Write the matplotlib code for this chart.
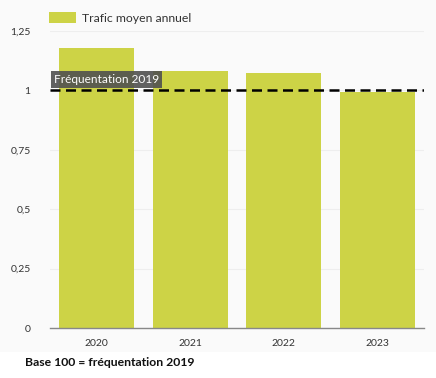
import matplotlib.pyplot as plt
from matplotlib.patches import Patch

# ---- data ----
years = ["2020", "2021", "2022", "2023"]
trafic = [1.178, 1.082, 1.073, 0.995]
ref_level = 1.0
y_ticks = [0, 0.25, 0.5, 0.75, 1, 1.25]
y_labels = ["0", "0,25", "0,5", "0,75", "1", "1,25"]

bar_color = "#cdd346"
plt.rcParams["font.family"] = ["Lato", "DejaVu Sans"]

fig = plt.figure(figsize=(4.36, 3.78), dpi=100)
fig.patch.set_facecolor("white")
# light panel behind chart
fig.patches.append(plt.Rectangle((0, 26 / 378), 1, 1 - 26 / 378, transform=fig.transFigure,
                                 facecolor="#fafafa", edgecolor="none", zorder=-10))

ax = fig.add_axes([50 / 436, (378 - 328) / 378, 374 / 436, 297 / 378])
ax.set_facecolor("none")

x = range(len(years))
ax.bar(x, trafic, width=0.8, color=bar_color, zorder=2)
ax.axhline(ref_level, color="black", linestyle=(0, (4, 2.2)), linewidth=1.8, zorder=3)
ax.text(-0.46, ref_level + 0.046, "Fréquentation 2019", color="white", fontsize=8.6,
        va="center", ha="left", zorder=4,
        bbox=dict(facecolor="#505050", alpha=0.9, edgecolor="none", pad=2.2))

ax.set_xlim(-0.5, 3.5)
ax.set_ylim(0, 1.25)
ax.set_xticks(list(x))
ax.set_xticklabels(years, fontsize=7.5, color="#333333")
ax.set_yticks(y_ticks)
ax.set_yticklabels(y_labels, fontsize=7.5, color="#333333")
ax.tick_params(length=0, pad=14)
ax.tick_params(axis="x", pad=8)
ax.grid(axis="y", color="#eeeeee", linewidth=0.8, zorder=0)
for s in ["top", "right", "left"]:
    ax.spines[s].set_visible(False)
ax.spines["bottom"].set_color("#888888")
ax.spines["bottom"].set_linewidth(1.0)

fig.legend(handles=[Patch(facecolor=bar_color, label="Trafic moyen annuel")],
           loc="upper left", bbox_to_anchor=(38 / 436, 1 - 1 / 378), frameon=False,
           fontsize=8.8, handlelength=2.2, handleheight=1.0, handletextpad=0.5,
           labelcolor="#333333")

fig.text(25 / 436, 1 - 363 / 378, "Base 100 = fréquentation 2019", fontsize=8.8,
         fontweight="bold", va="center", ha="left", color="#111111")

fig.savefig("out.png", dpi=100)
